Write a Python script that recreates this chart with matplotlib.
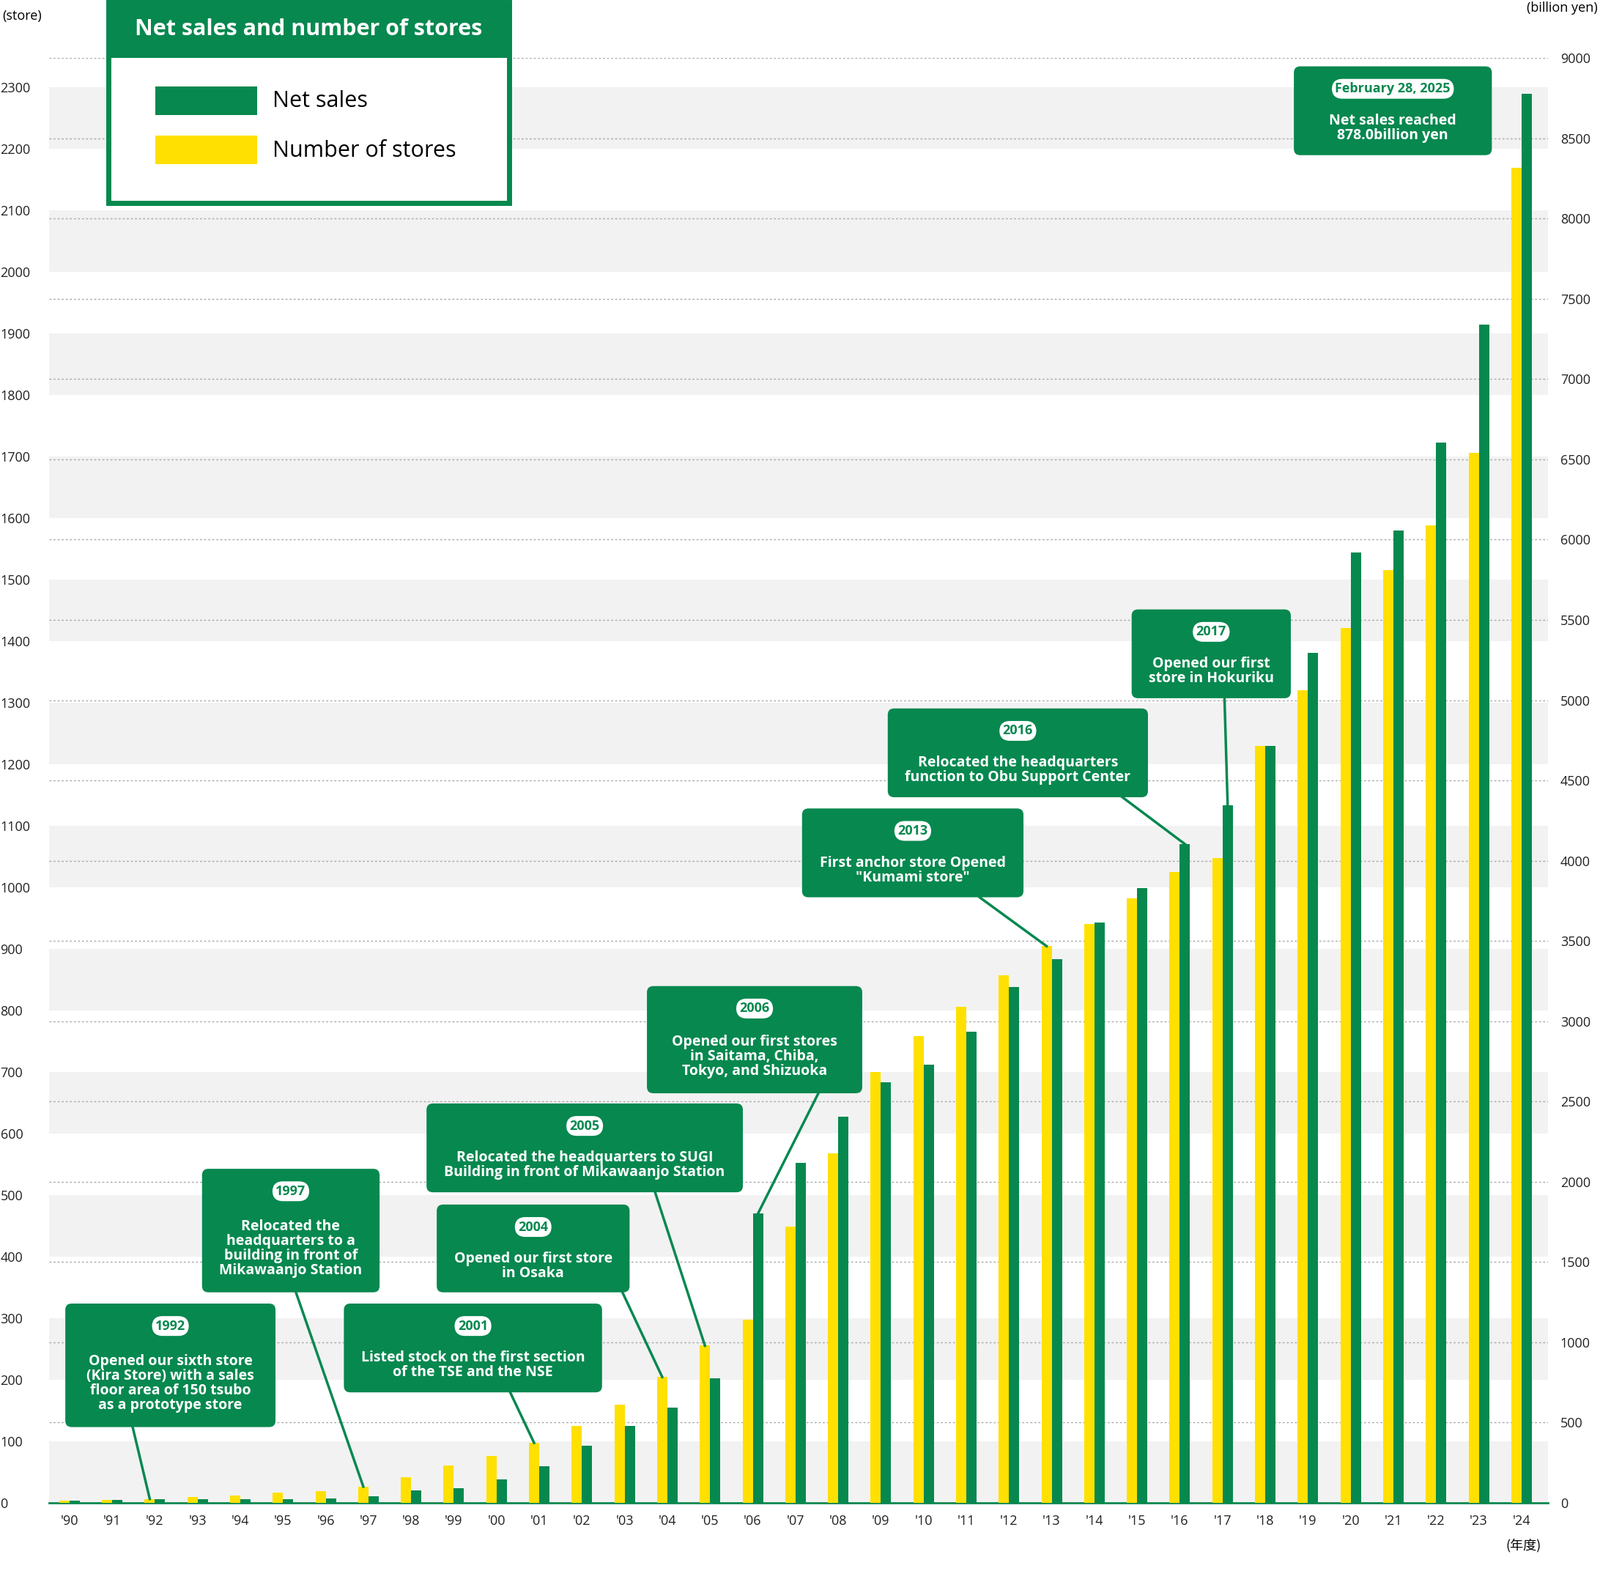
import matplotlib
matplotlib.use("Agg")
import matplotlib.pyplot as plt
from matplotlib.patches import Rectangle, FancyBboxPatch
import numpy as np

plt.rcParams["font.family"] = "Open Sans"

years = ["'90","'91","'92","'93","'94","'95","'96","'97","'98","'99","'00","'01","'02","'03","'04","'05","'06",
         "'07","'08","'09","'10","'11","'12","'13","'14","'15","'16","'17","'18","'19","'20","'21","'22","'23","'24"]
stores = [3,4,6,9,12,16,19,26,41,60,76,97,124,159,204,255,297,448,568,700,758,805,857,904,940,982,1025,1047,
          1229,1320,1421,1515,1588,1705,2169]
sales = [10,15,20,20,20,20,25,40,76,90,146,229,356,477,592,776,1800,2118,2405,2621,2729,2933,3212,3384,3613,
         3830,4103,4345,4714,5293,5922,6056,6603,7341,8780]

GREEN = "#06884f"
YELLOW = "#ffe000"
RW, RH = 1568.0, 1539.0
W, H = 2184, 2144
fig = plt.figure(figsize=(W/100, H/100), dpi=100)

def fx(x): return x / RW
def fy(y): return 1 - y / RH

ax = fig.add_axes([fx(48), fy(1472), fx(1517) - fx(48), fy(57) - fy(1472)])
ax2 = ax.twinx()
ax.set_zorder(2); ax.patch.set_visible(False)
ax2.set_zorder(1)
x = np.arange(len(years))
ax.set_xlim(-0.48, 34.62)
top_left = (1472 - 57) / 0.603
ax.set_ylim(0, top_left)
ax2.set_ylim(0, 9000)
k2 = 9000 / top_left
for k in range(0, 2300, 200):
    ax2.axhspan(k * k2, (k + 100) * k2, color="#f2f2f2", zorder=0, lw=0)
for v in range(500, 9001, 500):
    ax2.axhline(v, color="#aaaaaa", ls=(0, (2, 2)), lw=1, zorder=1)
w = 0.24
ax.bar(x - w/2, stores, w, color=YELLOW, zorder=3)
ax2.bar(x + w/2, sales, w, color=GREEN, zorder=3)
ax.set_xticks(x, years)
ax.set_yticks(range(0, 2301, 100))
ax2.set_yticks(range(0, 9001, 500))
for a in (ax, ax2):
    for s in a.spines.values(): s.set_visible(False)
    a.tick_params(length=0, labelsize=13, colors="#222222")
ax.spines["bottom"].set_visible(True)
ax.spines["bottom"].set_color(GREEN); ax.spines["bottom"].set_linewidth(2)
for lbl in ax.get_yticklabels(): lbl.set_horizontalalignment("left"); lbl.set_x(-0.03)
ax2.tick_params(axis="y", pad=12)
ax.tick_params(axis="x", pad=12)

fig.text(fx(2), fy(16), "(store)", fontsize=13, va="center")
fig.text(fx(1566), fy(8), "(billion yen)", fontsize=13, va="center", ha="right")
fig.text(fx(1493), fy(1514), "(年度)", fontsize=13, va="center", ha="center", family="Noto Sans CJK JP")

# legend box
fig.patches.append(Rectangle((fx(106), fy(199)), fx(499) - fx(106), fy(2) - fy(199), transform=fig.transFigure,
                             fc="white", ec=GREEN, lw=5, zorder=5))
fig.patches.append(Rectangle((fx(106), fy(57)), fx(499) - fx(106), fy(2) - fy(57), transform=fig.transFigure,
                             fc=GREEN, ec=GREEN, lw=0, zorder=6))
fig.text(fx(302), fy(29), "Net sales and number of stores", color="white", fontsize=22, weight="bold",
         ha="center", va="center", zorder=7)
fig.patches.append(Rectangle((fx(152), fy(113)), fx(100), fy(85) - fy(113), transform=fig.transFigure,
                             fc=GREEN, lw=0, zorder=7))
fig.patches.append(Rectangle((fx(152), fy(161)), fx(100), fy(133) - fy(161), transform=fig.transFigure,
                             fc=YELLOW, lw=0, zorder=7))
fig.text(fx(267), fy(99), "Net sales", fontsize=22, va="center", zorder=7)
fig.text(fx(267), fy(148), "Number of stores", fontsize=22, va="center", zorder=7)

ann = [
    ("1992", "Opened our sixth store\n(Kira Store) with a sales\nfloor area of 150 tsubo\nas a prototype store", 64, 270, 1277, 1398, (130, 1398), 2, "s"),
    ("1997", "Relocated the\nheadquarters to a\nbuilding in front of\nMikawaanjo Station", 198, 372, 1145, 1266, (290, 1266), 7, "s"),
    ("2001", "Listed stock on the first section\nof the TSE and the NSE", 337, 590, 1277, 1364, (500, 1364), 11, "s"),
    ("2004", "Opened our first store\nin Osaka", 428, 617, 1180, 1266, (610, 1266), 14, "s"),
    ("2005", "Relocated the headquarters to SUGI\nBuilding in front of Mikawaanjo Station", 418, 728, 1081, 1168, (642, 1168), 15, "s"),
    ("2006", "Opened our first stores\nin Saitama, Chiba,\nTokyo, and Shizuoka", 634, 845, 966, 1071, (802, 1071), 16, "g"),
    ("2013", "First anchor store Opened\n\"Kumami store\"", 786, 1003, 792, 879, (960, 879), 23, "s"),
    ("2016", "Relocated the headquarters\nfunction to Obu Support Center", 870, 1125, 694, 781, (1100, 781), 26, "g"),
    ("2017", "Opened our first\nstore in Hokuriku", 1109, 1265, 597, 684, (1200, 684), 27, "g"),
    ("February 28, 2025", "Net sales reached\n878.0billion yen", 1268, 1462, 65, 152, None, None, None),
]
for yr, txt, x0, x1, y0, y1, start, idx, kind in ann:
    fig.patches.append(FancyBboxPatch((fx(x0), fy(y1)), fx(x1) - fx(x0), fy(y0) - fy(y1),
                                      boxstyle="round,pad=0,rounding_size=0.004", transform=fig.transFigure,
                                      fc=GREEN, ec="none", zorder=8))
    cx = (x0 + x1) / 2
    fig.text(fx(cx), fy(y0 + 22), yr, color=GREEN, fontsize=13, weight="bold", ha="center", va="center", zorder=10,
             bbox=dict(boxstyle="round,pad=0.25,rounding_size=0.8", fc="white", ec="none"))
    nl = txt.count("\n") + 1
    fig.text(fx(cx), fy(y0 + 40 + nl * 17.5 / 2 + 3), txt, color="white", fontsize=14, weight="bold",
             ha="center", va="center", linespacing=1.0, zorder=10)
    if start is not None:
        if kind == "s":
            ex, ey, tr = idx - w/2, stores[idx], ax.transData
        else:
            ex, ey, tr = idx + w/2, sales[idx], ax2.transData
        px, py = tr.transform((ex, ey))
        fig.add_artist(plt.Line2D([fx(start[0]), px / W], [fy(start[1]), py / H], transform=fig.transFigure,
                                  color=GREEN, lw=2.5, zorder=7))

fig.savefig("out.png", dpi=100, facecolor="white")
